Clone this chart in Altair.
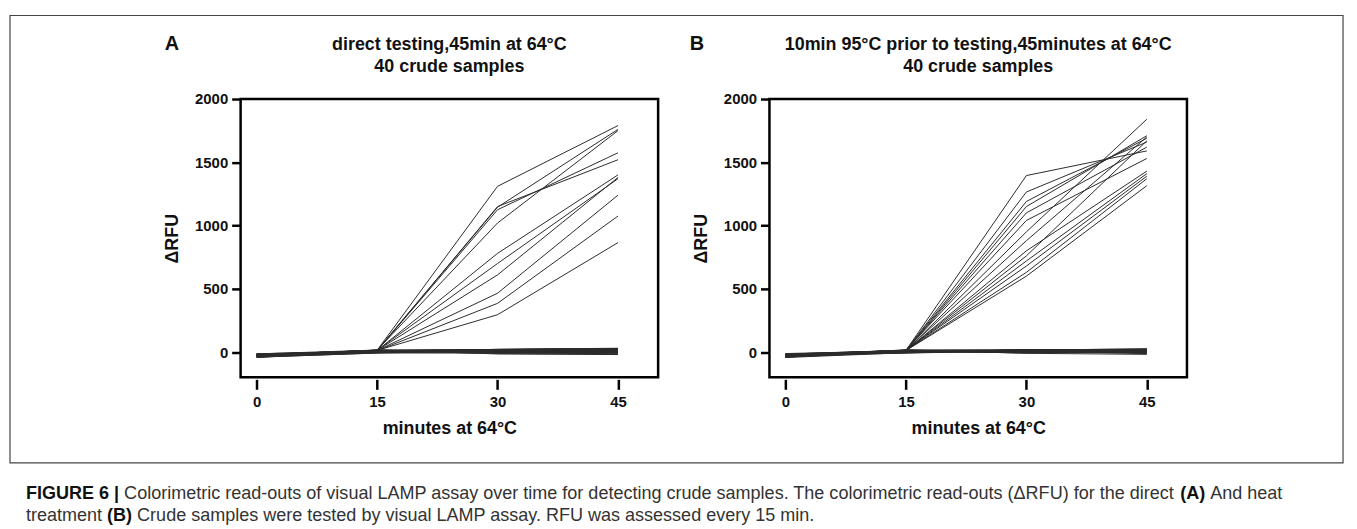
import altair as alt
import pandas as pd

MINUTES = [0, 15, 30, 45]
Y_TICKS = [0, 500, 1000, 1500, 2000]

TITLE_A = ["direct testing,45min at 64°C", "40 crude samples"]
TITLE_B = ["10min 95°C prior to testing,45minutes at 64°C", "40 crude samples"]
X_TITLE = "minutes at 64°C"
Y_TITLE = "ΔRFU"

# Panel A (direct testing): 40 samples, values at 0/15/30/45 min
A_T0 = [-22, -25, -20, -27, -23, -24, -21, -26, -22, -25, -20,
        -25, -18, -35, -14, -40, -28, -22, -31, -12, -43, -26, -20, -37, -16, -33,
        -29, -24, -41, -19, -30, -27, -15, -38, -23, -34, -21, -39, -17, -32]
A_T15 = [14, 12, 13, 11, 15, 12, 14, 13, 12, 11, 13,
         5, -3, 12, 8, -8, 15, 2, 10, -5, 17, 6, 0, 13, -2, 9,
         4, 14, -7, 11, 1, 7, 16, -4, 3, 10, -1, 12, 6, 8]
A_T30 = [1310, 1145, 1150, 1125, 1020, 780, 700, 610, 465, 385, 295,
         15, 8, 18, -2, 12, 20, 5, 3, 16, -15, 14, 6, 10, 22, 0,
         7, 19, -8, 13, 4, 21, -3, 11, 2, 17, 9, -12, 20, 10]
A_T45 = [1790, 1760, 1520, 1575, 1750, 1400, 1370, 1380, 1240, 1075, 865,
         20, 5, 25, -5, 15, 28, 10, 0, 22, -18, 18, 3, 12, 30, -2,
         8, 24, -10, 16, 6, 26, -14, 14, 2, 20, 9, -20, 27, 11]

# Panel B (10 min 95°C pre-treatment): 40 samples
B_T0 = [-24, -21, -26, -23, -20, -25, -22, -27, -24, -21, -23, -26, -22, -25,
        -22, -35, -14, -40, -28, -18, -31, -12, -43, -26, -20, -37, -16,
        -33, -29, -24, -41, -19, -30, -27, -15, -38, -23, -34, -21, -39]
B_T15 = [13, 12, 14, 11, 13, 15, 12, 14, 11, 13, 12, 14, 13, 12,
         4, 12, -3, 8, -8, 15, 2, 10, -5, 17, 6, 0, 13,
         -2, 9, 3, 14, -7, 11, 1, 7, 16, -4, 5, 10, -1]
B_T30 = [1395, 1265, 1190, 1150, 1100, 1040, 950, 880, 800, 760, 720, 680, 630, 600,
         12, 6, 18, -4, 10, 15, 3, 8, 20, -10, 14, 5, 9,
         17, -2, 11, 4, 19, -8, 13, 1, 16, 7, -3, 18, 10]
B_T45 = [1590, 1660, 1690, 1710, 1620, 1530, 1840, 1700, 1430, 1670, 1410, 1390, 1370, 1315,
         15, 4, 22, -6, 12, 25, 8, 0, 18, -18, 14, 3, 10,
         24, -4, 6, 20, -8, 16, 2, 19, 9, -12, 23, 11, 5]

CAP1 = [("FIGURE 6 |", True),
        (" Colorimetric read-outs of visual LAMP assay over time for detecting crude samples. "
         "The colorimetric read-outs (ΔRFU) for the direct ", False),
        ("(A)", True), (" And heat", False)]
CAP2 = [("treatment ", False), ("(B)", True),
        (" Crude samples were tested by visual LAMP assay. RFU was assessed every 15 min.", False)]

FONT = "Liberation Sans"

# Arial / Liberation Sans advance widths (per 1000 em) for caption layout
REG = {' ': 278, '(': 333, ')': 333, ',': 278, '-': 333, '.': 278, '|': 260, 'Δ': 668}
for ch in "0123456789":
    REG[ch] = 556
REG.update(dict(zip("ABCDEFGHIJKLMNOPQRSTUVWXYZ",
                    [667, 667, 722, 722, 667, 611, 778, 722, 278, 500, 667, 556, 833,
                     722, 778, 667, 778, 722, 667, 611, 722, 667, 944, 667, 667, 611])))
REG.update(dict(zip("abcdefghijklmnopqrstuvwxyz",
                    [556, 556, 500, 556, 556, 278, 556, 556, 222, 222, 500, 222, 833,
                     556, 556, 556, 556, 333, 500, 278, 556, 500, 722, 500, 500, 500])))
BOLD = {' ': 278, '(': 333, ')': 333, '|': 280, '6': 556, 'F': 611, 'I': 278, 'G': 778,
        'U': 722, 'R': 722, 'E': 667, 'A': 722, 'B': 722}


def units(s, bold):
    t = BOLD if bold else REG
    return sum(t.get(c, 556) for c in s)


CAP_X0 = 24 - 240          # caption left edge in panel-A coordinates
CAP_TARGET = 1264          # width of caption's first line
CAP_SIZE = CAP_TARGET * 1000 / sum(units(s, b) for s, b in CAP1)


def build_df(t0, t15, t30, t45):
    rows = []
    for i in range(len(t0)):
        for m, v in zip(MINUTES, (t0[i], t15[i], t30[i], t45[i])):
            rows.append({"sample": i, "minute": m, "rfu": v})
    return pd.DataFrame(rows)


W, H = 420, 280


def text_layer(txt, x, y, size, bold=True, align="center", color="#111"):
    return alt.Chart(pd.DataFrame({"t": [txt]})).mark_text(
        font=FONT, fontSize=size, fontWeight="bold" if bold else "normal",
        align=align, baseline="middle", color=color
    ).encode(text="t:N", x=alt.value(x), y=alt.value(y))


def panel(df, title, letter, letter_x, extra=()):
    lines = alt.Chart(df).mark_line(color="#2b2b2b", strokeWidth=1).encode(
        x=alt.X("minute:Q",
                scale=alt.Scale(domain=[-2, 50], nice=False, zero=False),
                axis=alt.Axis(values=MINUTES, title=X_TITLE, domain=False, grid=False,
                              offset=2, tickSize=10, tickWidth=2.5, tickColor="black",
                              labelFont=FONT, labelFontSize=15, labelFontWeight="bold",
                              labelColor="#111", labelPadding=5,
                              titleFont=FONT, titleFontSize=18, titleFontWeight="bold",
                              titleColor="#111", titlePadding=10)),
        y=alt.Y("rfu:Q",
                scale=alt.Scale(domain=[-200, 2000], nice=False, zero=False),
                axis=alt.Axis(values=Y_TICKS, format="d", title=Y_TITLE, domain=False,
                              grid=False, tickSize=9, tickWidth=2.5, tickColor="black",
                              labelFont=FONT, labelFontSize=15, labelFontWeight="bold",
                              labelColor="#111", labelPadding=4,
                              titleFont=FONT, titleFontSize=18, titleFontWeight="bold",
                              titleColor="#111", titlePadding=13)),
        detail="sample:N",
    )
    layers = [lines,
              text_layer(title[0], W / 2, -54, 18),
              text_layer(title[1], W / 2, -32, 18),
              text_layer(letter, letter_x, -55, 20)]
    layers += list(extra)
    return alt.layer(*layers).properties(width=W, height=H)


# outer figure border and caption, positioned in panel-A coordinates
border = alt.Chart(pd.DataFrame({"k": [0]})).mark_rect(
    fill=None, filled=False, stroke="#444", strokeWidth=1.2
).encode(x=alt.value(-232), x2=alt.value(1109), y=alt.value(-84), y2=alt.value(366))

caption = []
for line, y in ((CAP1, 397), (CAP2, 420)):
    x = CAP_X0
    for seg, bold in line:
        lead = len(seg) - len(seg.lstrip(" "))
        sx = x + units(" " * lead, bold) * CAP_SIZE / 1000
        caption.append(text_layer(seg.strip(" "), sx, y, CAP_SIZE, bold=bold, align="left",
                                  color="#111" if bold else "#333"))
        x += units(seg, bold) * CAP_SIZE / 1000

pA = panel(build_df(A_T0, A_T15, A_T30, A_T45), TITLE_A, "A", -69,
           extra=[border] + caption)
pB = panel(build_df(B_T0, B_T15, B_T30, B_T45), TITLE_B, "B", -73)

chart = alt.hconcat(pA, pB, spacing=112, bounds="flush").properties(
    padding={"left": 0, "top": 4, "right": 4, "bottom": 4},
    background="white",
).configure_view(stroke="black", strokeWidth=2.5)

chart.save("out.html", embed_options={"renderer": "svg", "actions": False})
